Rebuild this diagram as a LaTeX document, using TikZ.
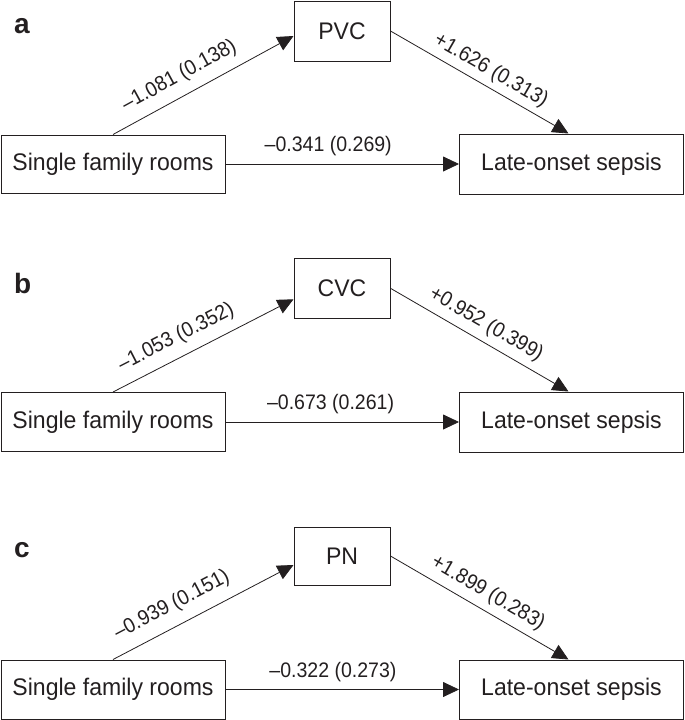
\documentclass[tikz,border=0pt]{standalone}
\usepackage{fontspec}
\setmainfont{Liberation Sans}
\newfontfamily\labfont[FakeStretch=0.93]{Liberation Sans}
\newfontfamily\boxfont[FakeStretch=0.96]{Liberation Sans}
\usetikzlibrary{arrows.meta}
\definecolor{ink}{HTML}{231F20}
\begin{document}
\begin{tikzpicture}[x=1pt,y=-1pt,
  box/.style={draw=ink, text=ink, line width=1pt, inner sep=0pt, font=\boxfont\fontsize{24}{28}\selectfont},
  medbox/.style={box, minimum width=96pt},
  wide/.style={box, minimum width=224pt},
  arr/.style={draw=ink, line width=0.8pt, -{Triangle[length=16pt,width=15pt]}},
  coef/.style={text=ink, font=\labfont\fontsize{21}{25}\selectfont, inner xsep=0pt, anchor=south},
  panel/.style={text=ink, font=\fontsize{28}{32}\selectfont\bfseries, anchor=base west, inner sep=0pt}]
\useasboundingbox (0,0) rectangle (685,720);

% ---------- panel a ----------
\node[panel] (la) at (14,33) {a};
\node[medbox, minimum height=60pt] (medA) at (342,31) {PVC};
\node[wide, minimum height=58pt] (sfrA) at (113,164) {Single family rooms};
\node[wide, minimum height=60pt] (losA) at (571.5,164) {Late-onset sepsis};
\draw[arr] (sfrA.north) -- ([yshift=-5pt]medA.west)
  node[coef, sloped, pos=0.42, inner ysep=9.5pt] {–1.081 (0.138)};
\draw[arr] (medA.east) -- ([xshift=-3pt]losA.north)
  node[coef, sloped, pos=0.52, inner ysep=5.5pt] {+1.626 (0.313)};
\draw[arr] (sfrA.east) -- (losA.west)
  node[coef, pos=0.44, inner ysep=7.5pt] {–0.341 (0.269)};

% ---------- panel b ----------
\node[panel] (lb) at (14,293) {b};
\node[medbox, minimum height=60pt] (medB) at (342,288.3) {CVC};
\node[wide, minimum height=59pt] (sfrB) at (113,422) {Single family rooms};
\node[wide, minimum height=60pt] (losB) at (571.5,422) {Late-onset sepsis};
\draw[arr] (sfrB.north) -- ([yshift=-11pt]medB.west)
  node[coef, sloped, pos=0.40, inner ysep=9.5pt] {–1.053 (0.352)};
\draw[arr] (medB.east) -- ([xshift=-3pt]losB.north)
  node[coef, sloped, pos=0.49, inner ysep=6.5pt] {+0.952 (0.399)};
\draw[arr] (sfrB.east) -- (losB.west)
  node[coef, pos=0.45, inner ysep=7.5pt] {–0.673 (0.261)};

% ---------- panel c ----------
\node[panel] (lc) at (14,557) {c};
\node[medbox, minimum height=58pt] (medC) at (342,556) {PN};
\node[wide, minimum height=59pt] (sfrC) at (113,689.5) {Single family rooms};
\node[wide, minimum height=59pt] (losC) at (571.5,689.5) {Late-onset sepsis};
\draw[arr] (sfrC.north) -- ([yshift=-9pt]medC.west)
  node[coef, sloped, pos=0.38, inner ysep=10.5pt] {–0.939 (0.151)};
\draw[arr] (medC.east) -- ([xshift=-3pt]losC.north)
  node[coef, sloped, pos=0.50, inner ysep=6.5pt] {+1.899 (0.283)};
\draw[arr] (sfrC.east) -- (losC.west)
  node[coef, pos=0.46, inner ysep=7.5pt] {–0.322 (0.273)};
\end{tikzpicture}
\end{document}
